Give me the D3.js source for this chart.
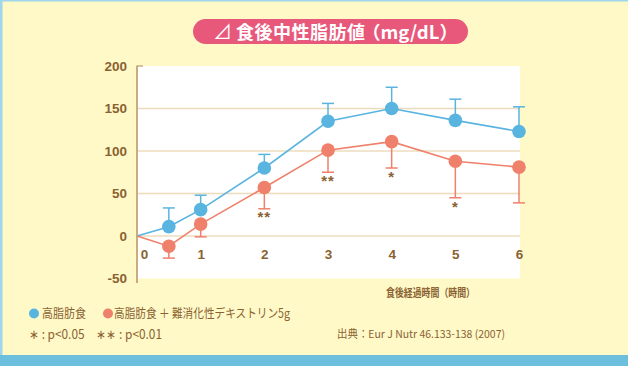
<!DOCTYPE html>
<html><head><meta charset="utf-8">
<script src="https://cdn.jsdelivr.net/npm/d3@7"></script>
<style>
html,body{margin:0;padding:0;background:#fff9c8;}
svg{display:block;font-family:"Noto Sans CJK JP","Noto Sans",sans-serif;}
</style></head>
<body>
<svg id="c" width="628" height="366"></svg>
<script>
const times = [0, 0.5, 1, 2, 3, 4, 5, 6];
const blueVals = [0, 11, 31, 80, 135, 150, 136, 123];
const blueUpper = [null, 33, 48, 96, 156, 175, 161, 152];
const redVals = [0, -12, 14, 57, 101, 111, 88, 81];
const redLower = [null, -26, -1, 32, 75, 80, 45, 39];
const sigMarks = [{t:2, label:"**", v:22}, {t:3, label:"**", v:65}, {t:4, label:"*", v:70}, {t:5, label:"*", v:34}];
const yTicks = [200, 150, 100, 50, 0, -50];
const xTicks = [0, 1, 2, 3, 4, 5, 6];
const seriesNames = ["高脂肪食", "高脂肪食 ＋ 難消化性デキストリン5g"];
const titleMark = "⊿";
const titleMain = "食後中性脂肪値";
const titleUnit = "（mg/dL）";
const xTitle = "食後経過時間（時間）";
const sigNote = "∗ : p<0.05　∗∗ : p<0.01";
const source = "出典：Eur J Nutr 46.133-138 (2007)";

const svg = d3.select("#c");
const BLUE = "#5ab4e0", RED = "#ef806b", BROWN = "#8a6232";

svg.append("rect").attr("width",628).attr("height",366).attr("fill","#fff9c8");
svg.append("rect").attr("x",0).attr("y",0).attr("width",628).attr("height",1.5).attr("fill","#9fd6ee");
svg.append("rect").attr("x",0).attr("y",0).attr("width",2.5).attr("height",366).attr("fill","#9fd6ee");
svg.append("rect").attr("x",0).attr("y",355).attr("width",628).attr("height",11).attr("fill","#6cc0de");

const x = d3.scaleLinear().domain([0,6]).range([137,519]);
const y = d3.scaleLinear().domain([-50,200]).range([278.5,66]);

svg.append("rect").attr("x",x(0)).attr("y",y(200)).attr("width",520-x(0)).attr("height",y(-50)-y(200)).attr("fill","#ffffff");

svg.append("g").selectAll("line").data(yTicks.filter(d=>d>-50 && d<200)).join("line")
  .attr("x1",x(0)).attr("x2",520).attr("y1",d=>y(d)).attr("y2",d=>y(d))
  .attr("stroke","#ecdcbc").attr("stroke-width",1.5);
svg.append("line").attr("x1",x(0)).attr("x2",x(0)+6).attr("y1",y(200)).attr("y2",y(200)).attr("stroke","#c9ad80").attr("stroke-width",1.5);

const yAxis = d3.axisLeft(y).tickValues(yTicks).tickSize(0).tickPadding(10).tickFormat(d=>d);
const gy = svg.append("g").attr("transform",`translate(${x(0)},0)`).call(yAxis);
gy.select(".domain").remove();
gy.selectAll("text").attr("fill",BROWN).attr("font-size",13.5).attr("font-weight","bold").attr("font-family","Liberation Sans, Arial, sans-serif");
svg.append("line").attr("x1",x(0)).attr("x2",x(0)).attr("y1",y(200)-0.5).attr("y2",283).attr("stroke","#c9ad80").attr("stroke-width",2);

const xAxis = d3.axisBottom(x).tickValues(xTicks).tickSize(0).tickPadding(0).tickFormat(d=>d);
const gx = svg.append("g").attr("transform",`translate(0,${y(0)+13})`).call(xAxis);
gx.select(".domain").remove();
gx.selectAll("text").attr("fill",BROWN).attr("font-size",13.5).attr("font-weight","bold").attr("font-family","Liberation Sans, Arial, sans-serif")
  .attr("dx",d=>d===0?7:0);

const line = d3.line().x((d,i)=>x(times[i])).y(d=>y(d));

function errBars(vals, ends, color){
  const g = svg.append("g").attr("stroke",color).attr("stroke-width",1.5);
  times.forEach((t,i)=>{
    if(ends[i]===null) return;
    g.append("line").attr("x1",x(t)).attr("x2",x(t)).attr("y1",y(vals[i])).attr("y2",y(ends[i]));
    g.append("line").attr("x1",x(t)-6).attr("x2",x(t)+6).attr("y1",y(ends[i])).attr("y2",y(ends[i]));
  });
}
errBars(blueVals, blueUpper, BLUE);
errBars(redVals, redLower, RED);

svg.append("path").attr("d",line(blueVals)).attr("fill","none").attr("stroke",BLUE).attr("stroke-width",1.6);
svg.append("path").attr("d",line(redVals)).attr("fill","none").attr("stroke",RED).attr("stroke-width",1.6);

svg.append("g").selectAll("circle").data(blueVals.slice(1)).join("circle")
  .attr("cx",(d,i)=>x(times[i+1])).attr("cy",d=>y(d)).attr("r",6.8).attr("fill",BLUE);
svg.append("g").selectAll("circle").data(redVals.slice(1)).join("circle")
  .attr("cx",(d,i)=>x(times[i+1])).attr("cy",d=>y(d)).attr("r",6.8).attr("fill",RED);

svg.append("g").selectAll("text").data(sigMarks).join("text")
  .attr("x",d=>x(d.t)).attr("y",d=>y(d.v)+5).attr("text-anchor","middle")
  .attr("fill",BROWN).attr("font-size",15).attr("font-weight","bold").attr("letter-spacing",1).attr("font-family","Liberation Sans, Arial, sans-serif")
  .text(d=>d.label);

// title pill
svg.append("rect").attr("x",193).attr("y",19).attr("width",275).attr("height",25).attr("rx",12.5).attr("fill","#e8587b");
svg.append("text").attr("x",213).attr("y",38.5).attr("fill","#fff")
  .attr("font-size",19).text(titleMark);
svg.append("text").attr("x",236).attr("y",38.5).attr("fill","#fff")
  .attr("font-size",18).attr("font-weight","bold").attr("textLength",129).attr("lengthAdjust","spacing").text(titleMain);
svg.append("text").attr("x",362).attr("y",38.5).attr("fill","#fff")
  .attr("font-size",18).attr("font-weight","bold").attr("textLength",96).attr("lengthAdjust","spacingAndGlyphs").text(titleUnit);

svg.append("text").attr("x",386).attr("y",297).attr("fill",BROWN)
  .attr("font-size",11).attr("font-weight","bold").attr("textLength",89).attr("lengthAdjust","spacingAndGlyphs").text(xTitle);

const leg = svg.append("g");
leg.append("circle").attr("cx",34).attr("cy",313.5).attr("r",5).attr("fill",BLUE);
leg.append("text").attr("x",42).attr("y",318).attr("fill",BROWN).attr("font-size",12.5).attr("textLength",44).attr("lengthAdjust","spacingAndGlyphs").text(seriesNames[0]);
leg.append("circle").attr("cx",108).attr("cy",313.5).attr("r",5).attr("fill",RED);
leg.append("text").attr("x",114).attr("y",318).attr("fill",BROWN).attr("font-size",12.5).attr("textLength",176).attr("lengthAdjust","spacingAndGlyphs").text(seriesNames[1]);
leg.append("text").attr("x",29).attr("y",339).attr("fill",BROWN).attr("font-size",13).attr("textLength",133).attr("lengthAdjust","spacingAndGlyphs").text(sigNote);
svg.append("text").attr("x",337).attr("y",338).attr("fill",BROWN).attr("font-size",11).attr("textLength",168).attr("lengthAdjust","spacingAndGlyphs").text(source);
</script>
</body></html>
